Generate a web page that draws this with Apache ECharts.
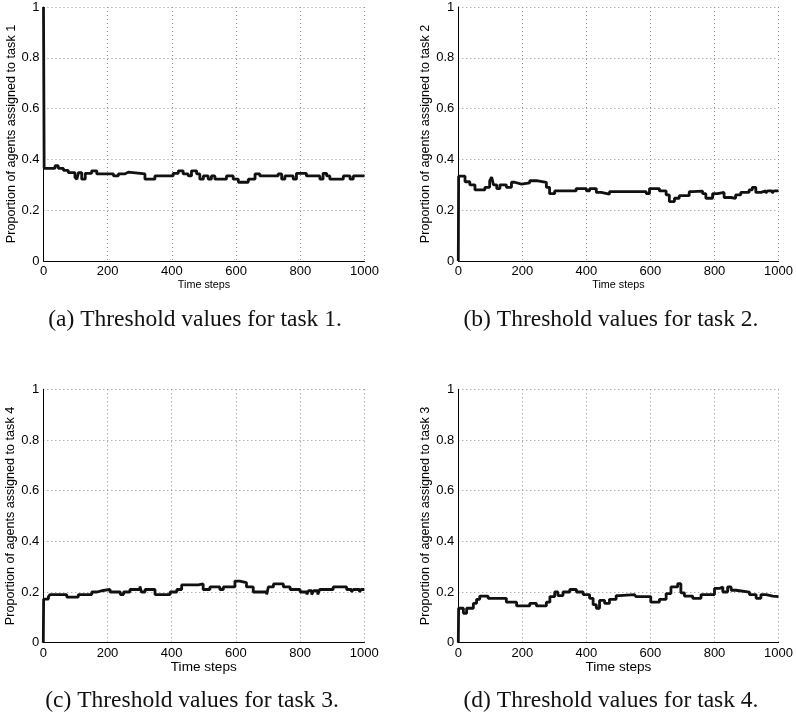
<!DOCTYPE html>
<html>
<head>
<meta charset="utf-8">
<script src="https://cdn.jsdelivr.net/npm/echarts@6/dist/echarts.min.js"></script>
<style>
html,body{margin:0;padding:0;background:#fff;}
#chart{width:796px;height:716px;}
</style>
</head>
<body>
<div id="chart"></div>
<script>
// ---- data (time step at which value changes, value held until next change) ----
const t1 = [0, 2, 36, 46, 62, 77, 98, 104, 109, 119, 130, 150, 166, 218, 233, 254, 264, 316, 347, 404, 420, 435, 451, 461, 477, 487, 498, 513, 523, 534, 570, 591, 607, 638, 659, 674, 731, 742, 752, 778, 788, 819, 861, 871, 882, 892, 934, 955, 965, 1000];
const v1 = [1, 0.365, 0.375, 0.365, 0.357, 0.348, 0.33, 0.322, 0.348, 0.322, 0.345, 0.355, 0.343, 0.335, 0.343, 0.35, 0.343, 0.322, 0.335, 0.345, 0.355, 0.343, 0.335, 0.355, 0.343, 0.322, 0.335, 0.322, 0.335, 0.322, 0.335, 0.322, 0.31, 0.322, 0.343, 0.335, 0.343, 0.322, 0.335, 0.322, 0.345, 0.335, 0.322, 0.345, 0.335, 0.322, 0.335, 0.322, 0.335, 0.335];

const t2 = [0, 1, 21, 36, 52, 83, 98, 104, 110, 120, 130, 150, 166, 176, 197, 223, 244, 275, 285, 301, 368, 400, 410, 431, 446, 472, 587, 597, 628, 649, 659, 675, 690, 721, 732, 763, 773, 794, 810, 830, 851, 866, 882, 908, 918, 929, 945, 960, 966, 980, 986, 1000];
const v2 = [0, 0.334, 0.312, 0.30, 0.28, 0.29, 0.315, 0.33, 0.30, 0.285, 0.30, 0.29, 0.31, 0.303, 0.308, 0.316, 0.31, 0.29, 0.265, 0.276, 0.285, 0.276, 0.285, 0.27, 0.263, 0.273, 0.265, 0.285, 0.276, 0.26, 0.234, 0.247, 0.257, 0.273, 0.275, 0.265, 0.247, 0.265, 0.27, 0.25, 0.247, 0.26, 0.27, 0.28, 0.29, 0.27, 0.276, 0.268, 0.276, 0.268, 0.276, 0.276];

const t3 = [0, 1, 16, 21, 73, 109, 151, 166, 182, 208, 240, 250, 270, 301, 306, 317, 348, 395, 416, 431, 483, 498, 519, 550, 561, 597, 612, 633, 654, 696, 701, 717, 748, 769, 800, 821, 826, 836, 842, 855, 861, 903, 945, 960, 966, 985, 990, 1000];
const v3 = [0, 0.172, 0.182, 0.19, 0.18, 0.19, 0.20, 0.205, 0.21, 0.20, 0.19, 0.20, 0.21, 0.222, 0.20, 0.21, 0.19, 0.20, 0.21, 0.228, 0.232, 0.21, 0.22, 0.21, 0.22, 0.243, 0.237, 0.22, 0.20, 0.19, 0.22, 0.232, 0.22, 0.21, 0.20, 0.19, 0.205, 0.19, 0.205, 0.19, 0.21, 0.22, 0.21, 0.20, 0.21, 0.20, 0.21, 0.21];

const t4 = [0, 1, 16, 26, 47, 57, 67, 93, 150, 182, 223, 244, 275, 286, 301, 311, 327, 348, 369, 390, 410, 421, 431, 441, 457, 472, 493, 503, 550, 555, 601, 628, 649, 664, 685, 695, 706, 732, 758, 800, 815, 826, 841, 852, 867, 909, 930, 945, 961, 966, 982, 1000];
const v4 = [0, 0.136, 0.116, 0.136, 0.155, 0.171, 0.184, 0.175, 0.16, 0.145, 0.155, 0.145, 0.16, 0.182, 0.2, 0.186, 0.2, 0.21, 0.2, 0.19, 0.175, 0.15, 0.136, 0.167, 0.155, 0.171, 0.186, 0.19, 0.194, 0.182, 0.16, 0.171, 0.194, 0.22, 0.233, 0.197, 0.184, 0.175, 0.19, 0.214, 0.22, 0.2, 0.22, 0.207, 0.2, 0.19, 0.175, 0.19, 0.197, 0.184, 0.182, 0.182];

const yLabels = [
  'Proportion of agents assigned to task 1',
  'Proportion of agents assigned to task 2',
  'Proportion of agents assigned to task 4',
  'Proportion of agents assigned to task 3'
];
const captions = [
  '(a) Threshold values for task 1.',
  '(b) Threshold values for task 2.',
  '(c) Threshold values for task 3.',
  '(d) Threshold values for task 4.'
];
const xName = 'Time steps';

// ---- layout ----
const panels = [
  {t: t1, v: v1, left: 43.5, top: 7, w: 321, h: 254, xNameSize: 10.8, xGap: 19, capX: 195, capY: 320},
  {t: t2, v: v2, left: 458.3, top: 7, w: 321, h: 254, xNameSize: 10.8, xGap: 19, capX: 611, capY: 320},
  {t: t3, v: v3, left: 43.3, top: 389.3, w: 321, h: 253.4, xNameSize: 13.6, xGap: 17, capX: 192, capY: 701},
  {t: t4, v: v4, left: 458.3, top: 389.3, w: 321, h: 253.4, xNameSize: 13.6, xGap: 17, capX: 611, capY: 701}
];

const sans = 'Liberation Sans, Arial, Helvetica, sans-serif';
const serif = 'Liberation Serif, Times New Roman, serif';
const gridLine = {show: true, lineStyle: {color: '#8f8f8f', width: 1, type: [1, 3]}};

const option = {
  animation: false,
  backgroundColor: '#fff',
  grid: panels.map(p => ({left: p.left, top: p.top, width: p.w, height: p.h, containLabel: false})),
  xAxis: panels.map((p, i) => ({
    type: 'value', gridIndex: i, min: 0, max: 1000, interval: 200,
    axisLine: {show: true, onZero: false, lineStyle: {color: '#000', width: 1}},
    axisTick: {show: false},
    axisLabel: {color: '#000', fontSize: 13, fontFamily: sans, margin: 4, formatter: v => String(v)},
    splitLine: gridLine,
    name: xName, nameLocation: 'middle', nameGap: p.xGap,
    nameTextStyle: {color: '#000', fontSize: p.xNameSize, fontFamily: sans}
  })),
  yAxis: panels.map((p, i) => ({
    type: 'value', gridIndex: i, min: 0, max: 1, interval: 0.2,
    axisLine: {show: true, onZero: false, lineStyle: {color: '#000', width: 1}},
    axisTick: {show: false},
    axisLabel: {color: '#000', fontSize: 13, fontFamily: sans, margin: 4},
    splitLine: gridLine,
    name: yLabels[i], nameLocation: 'middle', nameRotate: 90, nameGap: 25,
    nameTextStyle: {color: '#000', fontSize: 12.6, fontFamily: sans}
  })),
  series: panels.map((p, i) => ({
    type: 'line', xAxisIndex: i, yAxisIndex: i, step: 'end',
    showSymbol: false, symbol: 'none',
    lineStyle: {color: '#111', width: 2.8},
    data: p.t.map((t, k) => [t, p.v[k]]),
    z: 3
  })),
  graphic: panels.map((p, i) => ({
    type: 'text', x: p.capX, y: p.capY,
    style: {text: captions[i], fill: '#111', font: '23.5px ' + serif, textAlign: 'center', textVerticalAlign: 'middle'}
  }))
};

const chart = echarts.init(document.getElementById('chart'), null, {renderer: 'canvas'});
chart.setOption(option);
</script>
</body>
</html>
